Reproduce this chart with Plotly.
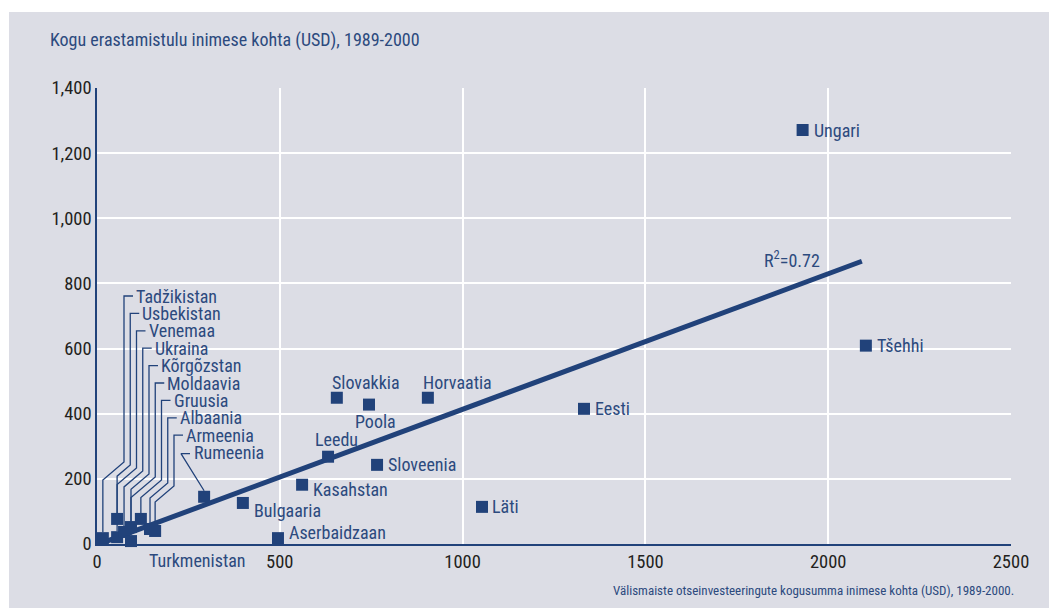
import plotly.graph_objects as go

# --- data ---
countries = ["Ungari", "Tšehhi", "Eesti", "Läti", "Horvaatia", "Slovakkia", "Poola",
             "Sloveenia", "Leedu", "Kasahstan", "Bulgaaria", "Aserbaidzaan", "Rumeenia",
             "Turkmenistan"]
fdi = [1930, 2103, 1332, 1053, 905, 656, 744, 766, 632, 561, 399, 495, 293, 153]
priv = [1271, 609, 415, 114, 449, 449, 428, 243, 268, 182, 126, 18, 145, -3]

cluster_countries = ["Tadžikistan", "Usbekistan", "Venemaa", "Ukraina", "Kõrgõzstan",
                     "Moldaavia", "Gruusia", "Albaania", "Armeenia"]
cluster_fdi = [16, 55, 55, 74, 93, 93, 120, 145, 159]
cluster_priv = [18, 21, 77, 37, 9, 52, 77, 46, 40]

trend_x = [16, 2092]
trend_y = [4, 868]
r2_text = "R<sup>2</sup>=0.72"

# --- styling / geometry ---
NAVY = "#21427a"
TEXT = "#2c4a7e"
BG = "#dcdde5"
FONT = "Roboto Condensed, Roboto, sans-serif"
LBL = 18
W, H = 1056, 612
L, R, T, B = 97, 45, 88, 68
X_RANGE = [0, 2500]
Y_RANGE = [0, 1400]
PW, PH = W - L - R, H - T - B


def px(x):
    return L + (x - X_RANGE[0]) / (X_RANGE[1] - X_RANGE[0]) * PW


def py(y):
    return H - B - (y - Y_RANGE[0]) / (Y_RANGE[1] - Y_RANGE[0]) * PH


def dx(p):
    return X_RANGE[0] + (p - L) / PW * (X_RANGE[1] - X_RANGE[0])


def dy(p):
    return Y_RANGE[0] + (H - B - p) / PH * (Y_RANGE[1] - Y_RANGE[0])


# label offsets in pixels: (xshift, yshift)
label_pos = {
    "Ungari": (9, 0), "Tšehhi": (9, 0), "Eesti": (9, 0), "Läti": (8, 0),
    "Horvaatia": (-7, 15), "Slovakkia": (-7, 15), "Poola": (-16, -17),
    "Sloveenia": (9, 0), "Leedu": (-15, 17), "Kasahstan": (9, -5),
    "Bulgaaria": (9, -8), "Aserbaidzaan": (9, 6), "Turkmenistan": (-6, -16),
}

fig = go.Figure()

# leader lines for the crowded cluster
for i, (x, y) in enumerate(zip(cluster_fdi, cluster_priv)):
    vx = 124 + 6.25 * i
    ly = 296 + 17.4 * i
    yk1 = 462 + 3 * i
    mx, my = px(x), py(y)
    yk2 = yk1 + (vx - mx) * 0.85
    xs = [mx, mx, vx, vx, vx + 9]
    ys = [my - 6, yk2, yk1, ly, ly]
    fig.add_trace(go.Scatter(x=[dx(v) for v in xs], y=[dy(v) for v in ys], mode="lines",
                             line=dict(color=NAVY, width=1.3), hoverinfo="skip",
                             showlegend=False))
    fig.add_annotation(x=dx(vx + 10), y=dy(ly), text=cluster_countries[i], showarrow=False,
                       xanchor="left", yanchor="middle", font=dict(size=LBL, color=TEXT))

# Rumeenia leader
ri = countries.index("Rumeenia")
rx, ry = px(fdi[ri]), py(priv[ri])
rly = 296 + 17.4 * 9
fig.add_trace(go.Scatter(x=[dx(rx), dx(181), dx(190)], y=[dy(ry - 6), dy(rly + 1), dy(rly + 1)],
                         mode="lines", line=dict(color=NAVY, width=1.3), hoverinfo="skip",
                         showlegend=False))
fig.add_annotation(x=dx(192), y=dy(rly), text="Rumeenia", showarrow=False,
                   xanchor="left", yanchor="middle", font=dict(size=LBL, color=TEXT))

# trend line
fig.add_trace(go.Scatter(x=trend_x, y=trend_y, mode="lines", line=dict(color=NAVY, width=5),
                         hoverinfo="skip", showlegend=False))

# markers
fig.add_trace(go.Scatter(x=fdi + cluster_fdi, y=priv + cluster_priv, mode="markers",
                         marker=dict(symbol="square", size=12, color=NAVY),
                         text=countries + cluster_countries, hoverinfo="text",
                         cliponaxis=False, showlegend=False))

for c, x, y in zip(countries, fdi, priv):
    if c not in label_pos:
        continue
    xs, ys = label_pos[c]
    # annotations outside the axis range are hidden, so anchor at the edge and shift
    ya = max(y, Y_RANGE[0])
    ys = ys - (py(y) - py(ya))
    fig.add_annotation(x=x, y=ya, text=c, showarrow=False, xanchor="left", yanchor="middle",
                       xshift=xs, yshift=ys, font=dict(size=LBL, color=TEXT))

fig.add_annotation(x=trend_x[1], y=trend_y[1], text=r2_text, showarrow=False,
                   xanchor="right", yanchor="middle", xshift=-40, yshift=2,
                   font=dict(size=LBL, color=TEXT))

# titles
fig.add_annotation(xref="paper", yref="paper", x=(48 - L) / PW, y=(H - B - 40) / PH,
                   text="Kogu erastamistulu inimese kohta (USD), 1989-2000", showarrow=False,
                   xanchor="left", yanchor="middle", font=dict(size=18, color=TEXT))
fig.add_annotation(xref="paper", yref="paper", x=(1016 - L) / PW, y=(H - B - 590) / PH,
                   text="Välismaiste otseinvesteeringute kogusumma inimese kohta (USD), 1989-2000.",
                   showarrow=False, xanchor="right", yanchor="middle",
                   font=dict(size=13, color=TEXT))

# grey panel with white frame
fig.add_shape(type="rect", xref="paper", yref="paper", layer="below",
              x0=(9 - L) / PW, x1=(1049 - L) / PW, y0=(H - B - 608) / PH, y1=(H - B - 12) / PH,
              fillcolor=BG, line=dict(width=0))

fig.update_layout(
    width=W, height=H,
    margin=dict(l=L, r=R, t=T, b=B),
    paper_bgcolor="white", plot_bgcolor=BG,
    font=dict(family=FONT, size=18, color="#231f20"),
    xaxis=dict(range=X_RANGE, tickvals=[0, 500, 1000, 1500, 2000, 2500], tickformat="d",
               showgrid=True, gridcolor="white", gridwidth=2, zeroline=False,
               showline=True, linecolor=NAVY, linewidth=1.5, ticks="",
               tickfont=dict(size=18.5, color="#231f20")),
    yaxis=dict(range=Y_RANGE, tickvals=[0, 200, 400, 600, 800, 1000, 1200, 1400],
               tickformat=",", showgrid=True, gridcolor="white", gridwidth=2,
               zeroline=False, showline=True, linecolor=NAVY, linewidth=1.5, ticks="",
               tickfont=dict(size=18.5, color="#231f20")),
    showlegend=False,
)

fig.write_html("out.html", config={"displayModeBar": False},
               post_script="document.body.style.margin='0';")
